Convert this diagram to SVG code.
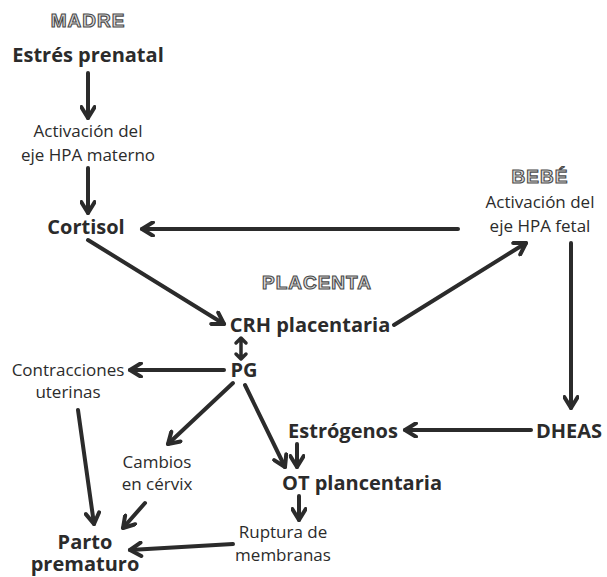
<svg xmlns="http://www.w3.org/2000/svg" width="607" height="577" viewBox="0 0 607 577">
<defs>
<marker id="ah" viewBox="0 0 10 10" refX="8" refY="5" markerWidth="4.2" markerHeight="4.2" orient="auto-start-reverse" markerUnits="strokeWidth">
<path d="M1.5,1 L8,5 L1.5,9" fill="none" stroke="#2b2b2b" stroke-width="2.4" stroke-linecap="round" stroke-linejoin="round"/>
</marker>
</defs>
<style>
.b{font-family:"Open Sans","Liberation Sans",sans-serif;font-weight:bold;font-size:20px;fill:#2b2b2b;text-anchor:middle}
.r{font-family:"Open Sans","Liberation Sans",sans-serif;font-size:17px;fill:#2b2b2b;text-anchor:middle}
.h{font-family:"Liberation Sans",Arial,sans-serif;font-weight:bold;font-size:19px;fill:#dcdcdc;stroke:#4a4a4a;stroke-width:1.1;text-anchor:middle;letter-spacing:1px}
.c{fill:none;stroke:#2b2b2b;stroke-width:4;stroke-linecap:round;marker-end:url(#ah)}
.d{fill:none;stroke:#2b2b2b;stroke-width:3.5;stroke-linecap:round;stroke-linejoin:round}
</style>
<rect width="607" height="577" fill="#fff"/>
<g id="labels">
<text class="h" x="88" y="27">MADRE</text>
<text class="h" x="540" y="183">BEBÉ</text>
<text class="h" x="317" y="289">PLACENTA</text>
</g>
<g id="estres"><text class="b" x="88" y="62">Estrés prenatal</text></g>
<g id="hpa-materno"><text class="r" x="88" y="137">Activación del</text><text class="r" x="88" y="161">eje HPA materno</text></g>
<g id="cortisol"><text class="b" x="86" y="234">Cortisol</text></g>
<g id="hpa-fetal"><text class="r" x="540" y="208">Activación del</text><text class="r" x="540" y="232">eje HPA fetal</text></g>
<g id="crh"><text class="b" x="310" y="332">CRH placentaria</text></g>
<g id="pg"><text class="b" x="244" y="377">PG</text></g>
<g id="contracciones"><text class="r" x="68" y="376">Contracciones</text><text class="r" x="68" y="398">uterinas</text></g>
<g id="cambios"><text class="r" x="157" y="468">Cambios</text><text class="r" x="157" y="490">en cérvix</text></g>
<g id="dheas"><text class="b" x="569" y="438">DHEAS</text></g>
<g id="estrogenos"><text class="b" x="343" y="438">Estrógenos</text></g>
<g id="ot"><text class="b" x="362" y="490">OT plancentaria</text></g>
<g id="ruptura"><text class="r" x="283" y="538">Ruptura de</text><text class="r" x="283" y="561">membranas</text></g>
<g id="parto"><text class="b" x="85" y="549">Parto</text><text class="b" x="85" y="571">prematuro</text></g>
<g id="connectors">
<line class="c" x1="88" y1="73" x2="88" y2="118"/>
<line class="c" x1="88" y1="168" x2="88" y2="213"/>
<line class="c" x1="458" y1="229" x2="142" y2="229"/>
<line class="c" x1="88" y1="240" x2="224" y2="324"/>
<line class="c" x1="394" y1="325" x2="526" y2="243"/>
<line class="c" x1="571" y1="243" x2="571" y2="408"/>
<line class="c" x1="531" y1="430" x2="405" y2="430"/>
<line class="c" x1="297" y1="444" x2="297" y2="467"/>
<line class="c" x1="299" y1="496" x2="299" y2="520"/>
<line class="c" x1="233" y1="544" x2="130" y2="550"/>
<path class="d" d="M241,338 L241,359 M236,343 L241,338 L246,343 M236,354 L241,359 L246,354"/>
<line class="c" x1="224" y1="370" x2="130" y2="370"/>
<line class="c" x1="78" y1="410" x2="94" y2="524"/>
<line class="c" x1="233" y1="383" x2="168" y2="444"/>
<line class="c" x1="245" y1="385" x2="285" y2="467"/>
<line class="c" x1="145" y1="503" x2="123" y2="528"/>
</g>
</svg>
